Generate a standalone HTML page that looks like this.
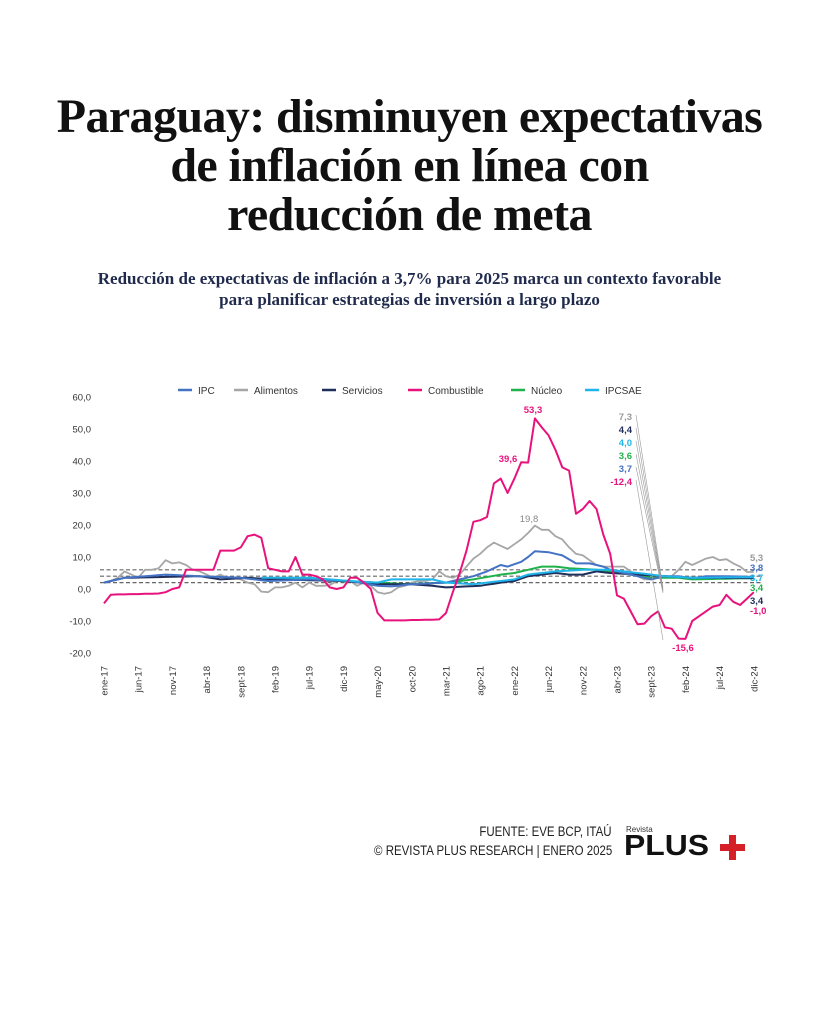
<!DOCTYPE html>
<html><head><meta charset="utf-8"><style>
body{margin:0;background:#fff;width:819px;height:1024px;overflow:hidden;position:relative;font-family:"Liberation Sans",sans-serif}
.t{position:absolute;left:0;width:819px;text-align:center;font-family:"Liberation Serif",serif;font-weight:bold;color:#111;font-size:48px;line-height:49px;letter-spacing:-0.6px}
.s{position:absolute;left:0;width:819px;text-align:center;font-family:"Liberation Serif",serif;font-weight:bold;color:#1f2a4d;font-size:17px;line-height:21px}
.f{position:absolute;right:207px;font-size:13.5px;color:#222;transform:scaleX(.85);transform-origin:right}
</style></head><body>
<div class="t" style="top:92px">Paraguay: disminuyen expectativas<br>de inflación en línea con<br>reducción de meta</div>
<div class="s" style="top:268px">Reducción de expectativas de inflación a 3,7% para 2025 marca un contexto favorable<br>para planificar estrategias de inversión a largo plazo</div>
<svg id="c" width="819" height="1024" style="position:absolute;left:0;top:0" font-family="Liberation Sans,sans-serif"></svg>
<div class="f" style="top:824px">FUENTE: EVE BCP, ITAÚ</div>
<div class="f" style="top:843px">© REVISTA PLUS RESEARCH | ENERO 2025</div>
<div style="position:absolute;left:626px;top:825px;font-size:8px;color:#333">Revista</div>
<div style="position:absolute;left:624px;top:832px;font-size:29px;font-weight:900;color:#111;letter-spacing:0px;line-height:28px;transform:scaleX(1.1);transform-origin:left">PLUS</div>
<div style="position:absolute;left:720px;top:844px;width:25px;height:7px;background:#d52027"></div>
<div style="position:absolute;left:729px;top:835px;width:7px;height:25px;background:#d52027"></div>
<script>
const X=m=>104+6.84*m, Y=v=>589-3.2*v;
function interp(pts){const a=[];for(let i=0;i<pts.length-1;i++){const[m0,v0]=pts[i],[m1,v1]=pts[i+1];for(let m=m0;m<m1;m++)a.push([m,v0+(v1-v0)*(m-m0)/(m1-m0)]);}a.push(pts[pts.length-1]);return a;}
let s='';
for(const v of[60,50,40,30,20,10,0,-10,-20])s+=`<text x="91" y="${Y(v)+3.5}" font-size="9.5" text-anchor="end" fill="#333">${v.toFixed(1).replace('.',',')}</text>`;
const ticks=['ene-17','jun-17','nov-17','abr-18','sept-18','feb-19','jul-19','dic-19','may-20','oct-20','mar-21','ago-21','ene-22','jun-22','nov-22','abr-23','sept-23','feb-24','jul-24','dic-24'];
ticks.forEach((t,i)=>{const x=X(i*5);s+=`<text transform="translate(${x+3.5},${666}) rotate(-90)" font-size="9.5" text-anchor="end" fill="#333">${t}</text>`});
for(const v of[2,4,6])s+=`<line x1="100" x2="762" y1="${Y(v)}" y2="${Y(v)}" stroke="#666" stroke-width="1.2" stroke-dasharray="4,2.5"/>`;
const comb=[-4.5,-1.8,-1.7,-1.7,-1.6,-1.6,-1.5,-1.5,-1.4,-1,0,0.5,6,6,6,6,6,12,12,12,13,16.5,17,16,6.5,6,5.5,5.5,10,4.5,4.5,4,3,0.5,0,0.5,3.5,3.5,2,0,-7.5,-9.8,-9.8,-9.8,-9.8,-9.7,-9.7,-9.6,-9.6,-9.5,-7.5,-1,5,12,21,21.5,22.5,33,34.5,30,34.5,39.6,39.5,53.3,50.5,48,43.5,38,37,23.5,25,27.5,25,17,11,-2,-3,-7,-11,-10.8,-8.5,-7,-12,-12.4,-15.5,-15.6,-10,-8.5,-7,-5.5,-5,-1.8,-4,-5,-3,-1].map((v,i)=>[i,v]);
const ali=[2,2.5,3.5,5.5,4.5,3.5,6,6,6.5,9,8,8.3,7.5,6,5.5,4.5,3.5,4.5,3.5,3.5,3,2,1.5,-0.8,-1,0.5,0.5,1,2,0.5,2,1,1,1.2,2.5,2.5,2.5,1,2,1,-1,-1.5,-1,0.5,1,2,2.5,2.5,3,5.5,4,3.5,4.5,7,9.5,11,13,14.5,13.5,12.5,14,15.5,17.5,19.8,18.5,18.5,16.5,15.5,13,11,10.5,9,7.5,7,7,7,7,5.5,4,3,3,3.5,4,4,6,8.5,7.5,8.5,9.5,10,9,9.3,8,7,5.3,5.3].map((v,i)=>[i,v]);
const ipc=interp([[0,2],[3,3.5],[9,4.5],[14,4],[20,3.5],[24,2.5],[30,3],[36,2.5],[40,1],[42,0.8],[45,1.5],[50,2],[54,4],[56,5.5],[58,7.5],[59,7],[61,8.5],[62,10],[63,11.8],[65,11.5],[67,10.5],[69,8],[71,8],[73,7],[74,6],[76,5],[78,4],[80,3],[82,4],[84,4],[86,3.3],[88,4],[91,4],[95,3.8]]);
const ser=interp([[0,2],[3,3.5],[14,4],[17,3],[21,3.5],[25,3],[35,2.5],[40,1.5],[45,1.5],[48,1],[50,0.5],[55,1],[58,2],[60,2.5],[62,4],[64,4.5],[66,5],[68,4.5],[70,4.5],[72,5.5],[74,5],[78,4.5],[82,4],[86,3.5],[95,3.4]]);
const nuc=interp([[24,3],[28,3.5],[34,2.5],[40,2],[44,1.5],[50,2],[54,3],[58,4.5],[60,5],[62,6],[64,7],[66,7],[68,6.5],[72,6],[76,5],[80,3.5],[84,3.5],[86,3],[95,3.4]]);
const sae=interp([[23,3.5],[30,3.5],[36,2.5],[40,2],[42,3],[48,3],[50,2],[54,1.5],[58,2.5],[60,3],[62,4.5],[64,5],[66,5.5],[70,6],[74,6],[78,5],[82,4],[86,3.5],[95,3.7]]);
const P=(a,c,w)=>`<polyline fill="none" stroke="${c}" stroke-width="${w}" stroke-linejoin="round" points="${a.map(([m,v])=>X(m).toFixed(1)+','+Y(v).toFixed(1)).join(' ')}"/>`;
s+=P(ali,'#a6a6a6',1.8)+P(nuc,'#1fb24a',2)+P(ser,'#1f2e5a',2)+P(ipc,'#4472c4',2)+P(sae,'#1fb5ea',2)+P(comb,'#e8127c',2);
for(const [y,ey] of [[415,588],[428,590],[441,591],[454,592],[467,593],[480,640]])s+=`<line x1="${636}" y1="${y}" x2="${663}" y2="${ey}" stroke="#999" stroke-width="0.6"/>`;
const L=[['7,3','#999',417],['4,4','#1f2e5a',430],['4,0','#1fb5ea',443],['3,6','#1fb24a',456],['3,7','#4472c4',469],['-12,4','#e8127c',482]];
L.forEach(([t,c,y])=>s+=`<text x="632" y="${y+3}" font-size="9.5" font-weight="bold" text-anchor="end" fill="${c}">${t}</text>`);
const R=[['5,3','#999',558],['3,8','#4472c4',568],['3,7','#1fb5ea',578],['3,4','#1fb24a',588],['3,4','#1f2e5a',601],['-1,0','#e8127c',611]];
R.forEach(([t,c,y])=>s+=`<text x="750" y="${y+3}" font-size="9.5" font-weight="bold" fill="${c}">${t}</text>`);
s+=`<text x="533" y="413" font-size="9.5" font-weight="bold" text-anchor="middle" fill="#e8127c">53,3</text><text x="508" y="462" font-size="9.5" font-weight="bold" text-anchor="middle" fill="#e8127c">39,6</text><text x="529" y="522" font-size="9.5" text-anchor="middle" fill="#888">19,8</text><text x="683" y="651" font-size="9.5" font-weight="bold" text-anchor="middle" fill="#e8127c">-15,6</text>`;
const lg=[['IPC','#4472c4',178],['Alimentos','#a6a6a6',234],['Servicios','#1f2e5a',322],['Combustible','#e8127c',408],['Núcleo','#1fb24a',511],['IPCSAE','#1fb5ea',585]];
lg.forEach(([t,c,x])=>s+=`<line x1="${x}" x2="${x+14}" y1="390" y2="390" stroke="${c}" stroke-width="2.5"/><text x="${x+20}" y="394" font-size="10" fill="#333">${t}</text>`);
document.getElementById('c').innerHTML=s;
</script>
</body></html>
